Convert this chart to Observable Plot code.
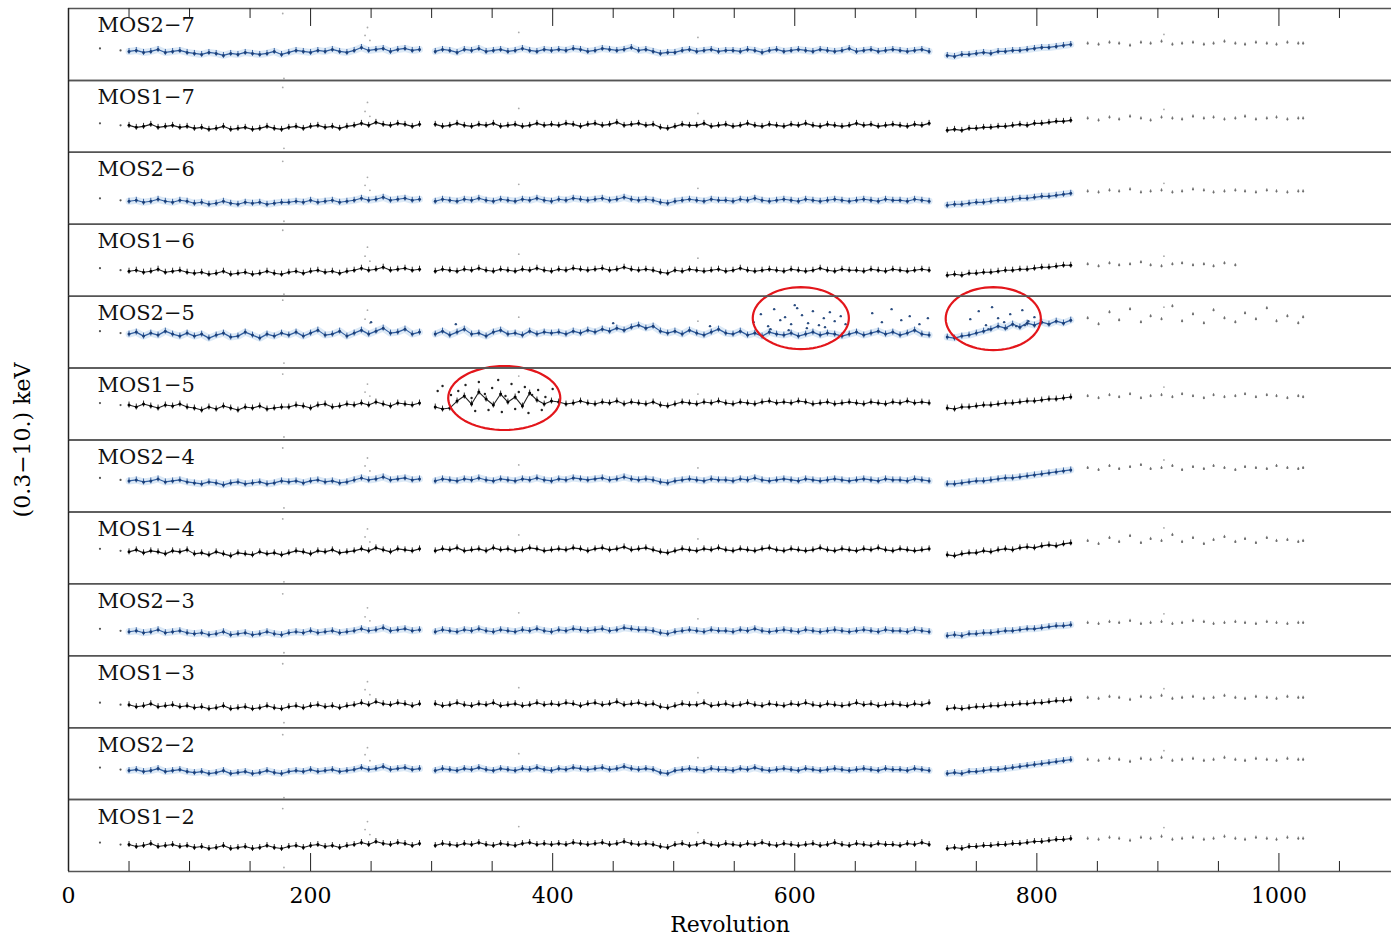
<!DOCTYPE html>
<html><head><meta charset="utf-8">
<script src="https://cdn.jsdelivr.net/npm/d3@7"></script>
<script src="https://cdn.jsdelivr.net/npm/@observablehq/plot@0.6"></script>
<style>body{margin:0;background:#fff}#chart svg{display:block}</style>
</head><body><div id="chart"></div>
<script>
const panels = ["MOS2−7","MOS1−7","MOS2−6","MOS1−6","MOS2−5","MOS1−5","MOS2−4","MOS1−4","MOS2−3","MOS1−3","MOS2−2","MOS1−2"];
const majorTicks = [200,400,600,800,1000];
const minorTicks = [50,100,150,250,300,350,450,500,550,650,700,750,850,900,950,1050];
const tickLabels = [0,200,400,600,800,1000];

// revolution numbers of the observations
const revs = [26,43,
50,56,62,68,74,80,86,92,98,104,110,116,122,128,134,140,146,152,158,164,170,176,182,188,194,200,206,212,218,224,230,236,242,248,254,260,266,272,278,284,290,
303,309,315,321,327,333,339,345,351,357,363,369,375,381,387,393,399,
405,411,417,423,429,435,441,447,453,459,465,471,477,483,489,495,
501,507,513,519,525,531,537,543,549,555,561,567,573,579,585,591,597,603,609,615,621,627,633,639,645,651,657,663,669,675,681,687,693,699,705,711,
726,732,738,744,750,756,762,768,774,780,786,792,798,804,810,816,822,828,
842,851,860,868,877,886,894,903,912,920,929,938,946,955,964,972,981,990,998,1007,1016,1020];

const mos2_7 = [3.2,3.0,
2.9,3.0,2.8,2.9,3.1,2.8,2.9,3.0,2.8,
2.7,2.6,2.8,2.7,2.5,2.7,2.6,2.8,2.7,2.6,2.7,2.9,2.6,
2.8,3.0,2.9,2.8,3.0,2.9,3.1,2.9,2.8,3.0,
3.3,3.0,3.1,3.2,2.9,3.1,3.2,3.0,3.1,
2.9,3.1,3.0,2.8,3.1,3.0,3.2,2.9,3.0,3.1,2.9,3.0,3.2,3.0,2.9,3.1,3.0,
3.1,3.0,3.2,3.1,2.9,3.0,3.2,3.1,3.0,3.1,3.3,3.0,3.1,2.9,2.7,2.8,
2.8,3.0,3.1,2.9,3.0,3.1,2.9,3.0,3.0,2.9,3.1,3.0,2.8,3.0,3.1,2.9,3.0,3.1,3.0,2.9,3.1,3.0,2.9,3.0,3.2,2.9,3.0,3.1,2.9,3.0,3.1,3.0,2.9,3.0,3.1,2.9,
2.5,2.4,2.6,2.6,2.7,2.8,2.7,2.9,2.9,3.0,3.0,3.1,3.2,3.3,3.3,3.4,3.5,3.6,
3.7,3.6,3.8,3.7,3.5,3.8,3.7,3.9,3.6,3.7,3.8,3.6,3.7,3.9,3.7,3.6,3.8,3.7,3.6,3.8,3.7,3.7];

const mos1_7 = [2.9,2.7,
2.7,2.5,2.6,2.8,2.5,2.6,2.7,2.5,2.6,
2.4,2.5,2.3,2.4,2.6,2.3,2.4,2.5,2.3,2.4,2.6,2.4,2.3,
2.5,2.6,2.4,2.6,2.7,2.5,2.6,2.4,2.6,2.7,
2.9,2.7,3.0,2.8,2.7,2.9,2.8,2.6,2.8,
2.8,2.6,2.7,2.9,2.7,2.6,2.8,2.7,2.9,2.6,2.7,2.8,2.6,2.7,2.9,2.7,2.8,
2.7,2.9,2.8,2.6,2.8,2.9,2.7,2.8,3.0,2.7,2.8,2.9,2.7,2.8,2.5,2.4,
2.6,2.8,2.7,2.7,2.9,2.6,2.7,2.8,2.6,2.7,2.9,2.7,2.6,2.8,2.7,2.6,2.8,2.7,2.9,2.7,2.6,2.8,2.7,2.6,2.7,2.9,2.7,2.8,2.6,2.7,2.8,2.7,2.6,2.8,2.7,2.9,
2.2,2.3,2.2,2.4,2.4,2.5,2.5,2.6,2.6,2.7,2.8,2.7,2.9,2.9,3.0,3.1,3.1,3.2,
3.4,3.2,3.5,3.3,3.6,3.4,3.2,3.5,3.4,3.3,3.6,3.4,3.5,3.3,3.4,3.6,3.3,3.4,3.5,3.3,3.4,3.4];

const mos2_6 = [2.6,2.4,
2.3,2.4,2.2,2.3,2.5,2.3,2.2,2.4,2.3,
2.1,2.2,2.0,2.1,2.3,2.1,2.0,2.2,2.1,2.2,2.0,2.1,2.2,
2.2,2.3,2.2,2.4,2.2,2.3,2.4,2.2,2.3,2.4,
2.6,2.4,2.5,2.7,2.4,2.5,2.6,2.4,2.5,
2.3,2.5,2.4,2.3,2.5,2.4,2.6,2.4,2.3,2.5,2.4,2.3,2.5,2.4,2.6,2.4,2.3,
2.5,2.4,2.6,2.5,2.4,2.5,2.6,2.4,2.5,2.7,2.5,2.4,2.5,2.4,2.2,2.1,
2.3,2.4,2.5,2.4,2.3,2.5,2.4,2.4,2.3,2.5,2.4,2.6,2.4,2.3,2.4,2.5,2.4,2.3,2.5,2.4,2.3,2.4,2.5,2.4,2.3,2.4,2.5,2.4,2.3,2.5,2.4,2.4,2.3,2.5,2.4,2.3,
1.9,2.0,2.0,2.1,2.2,2.2,2.3,2.4,2.4,2.5,2.6,2.6,2.7,2.8,2.8,2.9,3.0,3.1,
3.3,3.2,3.4,3.3,3.5,3.2,3.3,3.4,3.2,3.3,3.5,3.4,3.2,3.3,3.4,3.3,3.2,3.4,3.3,3.2,3.3,3.3];

const mos1_6 = [2.8,2.6,
2.5,2.6,2.4,2.5,2.7,2.4,2.5,2.6,2.4,
2.3,2.4,2.2,2.3,2.5,2.2,2.3,2.4,2.2,2.3,2.5,2.3,2.2,
2.4,2.5,2.3,2.5,2.6,2.4,2.5,2.3,2.5,2.6,
2.8,2.6,2.7,2.9,2.6,2.7,2.8,2.6,2.7,
2.5,2.7,2.6,2.5,2.7,2.6,2.8,2.6,2.5,2.7,2.6,2.5,2.7,2.6,2.8,2.6,2.5,
2.7,2.6,2.8,2.7,2.6,2.7,2.8,2.6,2.7,2.9,2.7,2.6,2.7,2.6,2.4,2.3,
2.6,2.5,2.7,2.6,2.5,2.6,2.7,2.5,2.6,2.8,2.6,2.5,2.6,2.7,2.6,2.5,2.7,2.6,2.5,2.6,2.8,2.6,2.5,2.7,2.6,2.6,2.5,2.7,2.6,2.5,2.7,2.6,2.5,2.6,2.7,2.6,
2.1,2.2,2.1,2.3,2.3,2.4,2.4,2.5,2.6,2.6,2.7,2.7,2.8,2.9,2.9,3.0,3.1,3.1,
3.2,3.0,3.3,3.1,3.2,3.4,3.1,3.0,3.2,3.3,3.1,3.2,3.0,3.3,3.1,null,null,null,null,null,null,null];

const mos2_5 = [3.7,3.5,
3.4,3.6,3.2,3.5,3.3,3.7,3.4,3.2,3.5,
3.2,3.4,3.0,3.3,3.5,3.1,3.2,3.6,3.3,3.0,3.4,3.2,3.5,
3.3,3.6,3.2,3.5,3.8,3.3,3.4,3.7,3.2,3.5,
3.8,3.4,3.7,4.0,3.5,3.6,3.9,3.4,3.6,
3.4,3.7,3.3,3.6,3.9,3.4,3.5,3.2,3.6,3.8,3.4,3.5,3.3,3.7,3.4,3.6,3.5,
3.6,3.4,3.7,3.5,3.8,3.6,3.9,3.7,4.0,3.8,4.1,4.3,4.0,4.2,3.7,3.5,
3.7,3.4,3.8,3.5,3.3,3.6,3.9,3.5,3.4,3.7,3.3,3.5,3.2,3.6,3.4,3.3,3.5,3.2,3.4,3.6,3.3,3.5,3.4,3.2,3.4,3.6,3.3,3.5,3.7,3.4,3.6,3.3,3.5,3.8,3.4,3.3,
3.1,3.0,3.2,3.3,3.5,3.7,3.9,4.2,4.0,4.4,4.1,4.5,4.3,4.6,4.4,4.7,4.5,4.8,
5.0,4.4,5.6,4.8,5.9,4.6,5.2,4.9,6.2,4.7,5.4,4.5,5.8,5.0,4.6,5.5,4.9,6.0,4.7,5.2,4.5,5.1];

const mos1_5 = [3.7,3.5,
3.5,3.3,3.6,3.4,3.2,3.5,3.4,3.6,3.3,
3.2,3.0,3.3,3.1,3.4,3.2,3.0,3.3,3.2,3.4,3.1,3.2,3.3,
3.3,3.5,3.4,3.2,3.5,3.6,3.3,3.4,3.6,3.5,
3.7,3.5,3.8,3.6,3.4,3.7,3.6,3.5,3.7,
3.3,3.1,3.2,3.9,4.4,3.6,4.8,4.1,3.5,4.6,3.8,4.3,3.4,4.7,4.0,3.6,3.9,
3.8,3.6,3.7,3.9,3.7,3.6,3.8,3.7,3.9,3.6,3.8,3.7,3.6,3.8,3.5,3.4,
3.6,3.8,3.7,3.6,3.8,3.7,3.9,3.7,3.6,3.8,3.7,3.6,3.8,3.9,3.7,3.8,3.7,3.9,3.8,3.6,3.7,3.8,3.6,3.7,3.8,3.7,3.6,3.8,3.7,3.6,3.8,3.7,3.9,3.7,3.8,3.7,
3.2,3.1,3.3,3.3,3.4,3.5,3.5,3.6,3.7,3.7,3.8,3.9,3.9,4.0,4.1,4.1,4.2,4.3,
4.4,4.2,4.5,4.3,4.6,4.2,4.4,4.5,4.3,4.6,4.4,4.2,4.5,4.3,4.4,4.6,4.3,4.5,4.4,4.2,4.4,4.3];

const mos2_4 = [3.4,3.2,
3.1,3.2,3.0,3.1,3.3,3.0,3.1,3.2,3.0,
2.9,2.8,3.0,2.9,2.7,2.9,3.0,2.8,2.9,3.0,2.8,2.9,3.1,
3.0,3.1,2.9,3.1,3.2,3.0,3.1,2.9,3.0,3.2,
3.4,3.2,3.3,3.5,3.2,3.3,3.4,3.2,3.3,
3.1,3.3,3.2,3.1,3.3,3.2,3.4,3.2,3.1,3.3,3.2,3.1,3.3,3.2,3.4,3.2,3.1,
3.3,3.2,3.4,3.3,3.2,3.3,3.4,3.2,3.3,3.5,3.3,3.2,3.3,3.2,3.0,2.9,
3.1,3.2,3.3,3.2,3.1,3.3,3.2,3.2,3.1,3.3,3.2,3.4,3.2,3.1,3.2,3.3,3.2,3.1,3.3,3.2,3.1,3.2,3.3,3.2,3.1,3.2,3.3,3.2,3.1,3.3,3.2,3.2,3.1,3.3,3.2,3.1,
2.8,2.8,2.9,3.0,3.1,3.1,3.2,3.3,3.4,3.4,3.5,3.6,3.7,3.8,3.9,4.0,4.1,4.2,
4.4,4.2,4.6,4.3,4.5,4.7,4.3,4.4,4.6,4.2,4.5,4.3,4.6,4.4,4.2,4.5,4.4,4.3,4.6,4.4,4.3,4.4];

const mos1_4 = [3.5,3.3,
3.2,3.4,3.1,3.3,3.2,3.0,3.3,3.2,3.4,
3.0,3.1,2.9,3.2,3.0,2.8,3.1,3.0,2.9,3.2,3.0,3.1,2.9,
3.1,3.3,3.2,3.0,3.3,3.2,3.4,3.1,3.2,3.3,
3.5,3.3,3.6,3.4,3.2,3.5,3.4,3.3,3.5,
3.3,3.5,3.4,3.6,3.3,3.4,3.5,3.3,3.6,3.4,3.5,3.3,3.4,3.6,3.5,3.3,3.4,
3.5,3.4,3.6,3.5,3.3,3.5,3.6,3.4,3.5,3.7,3.4,3.5,3.6,3.4,3.2,3.1,
3.3,3.5,3.4,3.3,3.5,3.4,3.6,3.4,3.3,3.5,3.4,3.3,3.5,3.6,3.4,3.3,3.5,3.4,3.3,3.4,3.6,3.4,3.3,3.5,3.4,3.3,3.5,3.4,3.6,3.4,3.3,3.5,3.4,3.3,3.4,3.5,
2.9,2.8,3.0,3.1,3.1,3.3,3.2,3.4,3.5,3.4,3.6,3.7,3.6,3.8,3.9,3.8,4.0,4.1,
4.3,4.0,4.6,4.2,4.8,4.1,4.5,4.3,4.9,4.2,4.6,4.0,4.4,4.7,4.2,4.5,4.1,4.6,4.3,4.4,4.2,4.3];

const mos2_3 = [2.7,2.5,
2.4,2.5,2.3,2.4,2.6,2.3,2.4,2.5,2.3,
2.2,2.3,2.1,2.2,2.4,2.1,2.2,2.3,2.1,2.2,2.4,2.2,2.1,
2.3,2.4,2.3,2.5,2.3,2.4,2.5,2.3,2.4,2.5,
2.7,2.5,2.6,2.8,2.5,2.6,2.7,2.5,2.6,
2.4,2.6,2.5,2.4,2.6,2.5,2.7,2.5,2.4,2.6,2.5,2.4,2.6,2.5,2.7,2.5,2.4,
2.6,2.5,2.7,2.6,2.5,2.6,2.7,2.5,2.6,2.8,2.7,2.6,2.6,2.5,2.3,2.2,
2.4,2.5,2.6,2.5,2.4,2.6,2.5,2.5,2.4,2.6,2.5,2.7,2.5,2.4,2.5,2.6,2.5,2.4,2.6,2.5,2.4,2.5,2.6,2.5,2.4,2.5,2.6,2.5,2.4,2.6,2.5,2.5,2.4,2.6,2.5,2.4,
2.0,2.1,2.0,2.2,2.2,2.3,2.3,2.4,2.5,2.5,2.6,2.7,2.7,2.8,2.9,3.0,3.0,3.1,
3.3,3.2,3.4,3.3,3.5,3.2,3.3,3.4,3.2,3.3,3.5,3.4,3.2,3.3,3.4,3.3,3.2,3.4,3.3,3.2,3.3,3.3];

const mos1_3 = [2.5,2.3,
2.3,2.1,2.2,2.4,2.1,2.2,2.3,2.1,2.2,
2.0,2.1,1.9,2.0,2.2,1.9,2.0,2.1,1.9,2.0,2.2,2.0,1.9,
2.1,2.2,2.0,2.2,2.3,2.1,2.2,2.0,2.2,2.3,
2.5,2.3,2.6,2.4,2.3,2.5,2.4,2.2,2.4,
2.4,2.2,2.3,2.5,2.3,2.2,2.4,2.3,2.5,2.2,2.3,2.4,2.2,2.3,2.5,2.3,2.4,
2.3,2.5,2.4,2.2,2.4,2.5,2.3,2.4,2.6,2.3,2.4,2.5,2.3,2.4,2.1,2.0,
2.2,2.4,2.3,2.3,2.5,2.2,2.3,2.4,2.2,2.3,2.5,2.3,2.2,2.4,2.3,2.2,2.4,2.3,2.5,2.3,2.2,2.4,2.3,2.2,2.3,2.5,2.3,2.4,2.2,2.3,2.4,2.3,2.2,2.4,2.3,2.5,
1.9,2.0,1.9,2.0,2.1,2.1,2.2,2.2,2.3,2.3,2.4,2.4,2.5,2.5,2.6,2.7,2.7,2.8,
3.0,2.9,3.1,3.0,2.8,3.1,3.0,3.2,2.9,3.0,3.1,2.9,3.0,3.2,3.0,2.9,3.1,3.0,2.9,3.1,3.0,3.0];

const mos2_2 = [3.2,3.0,
2.9,3.0,2.8,2.9,3.1,2.8,2.9,3.0,2.8,
2.7,2.8,2.6,2.7,2.9,2.6,2.7,2.8,2.6,2.7,2.9,2.7,2.6,
2.8,2.9,2.8,3.0,2.8,2.9,3.0,2.8,2.9,3.0,
3.2,3.0,3.1,3.3,3.0,3.1,3.2,3.0,3.1,
2.9,3.1,3.0,2.9,3.1,3.0,3.2,3.0,2.9,3.1,3.0,2.9,3.1,3.0,3.2,3.0,2.9,
3.1,3.0,3.2,3.1,3.0,3.1,3.2,3.0,3.1,3.3,3.1,3.0,3.1,3.0,2.7,2.6,
2.9,3.0,3.1,3.0,2.9,3.1,3.0,3.0,2.9,3.1,3.0,3.2,3.0,2.9,3.0,3.1,3.0,2.9,3.1,3.0,2.9,3.0,3.1,3.0,2.9,3.0,3.1,3.0,2.9,3.1,3.0,3.0,2.9,3.1,3.0,2.9,
2.6,2.7,2.6,2.8,2.8,2.9,3.0,3.0,3.1,3.2,3.3,3.4,3.5,3.6,3.7,3.8,3.9,4.0,
4.0,3.9,4.1,4.0,3.8,4.1,4.0,4.2,3.9,4.0,4.1,3.9,4.0,4.2,4.0,3.9,4.1,4.0,3.9,4.1,4.0,4.0];

const mos1_2 = [2.9,2.7,
2.7,2.5,2.6,2.8,2.5,2.6,2.7,2.5,2.6,
2.4,2.5,2.3,2.4,2.6,2.3,2.4,2.5,2.3,2.4,2.6,2.4,2.3,
2.5,2.6,2.4,2.6,2.7,2.5,2.6,2.4,2.6,2.7,
2.9,2.7,3.0,2.8,2.7,2.9,2.8,2.6,2.8,
2.6,2.8,2.7,2.6,2.8,2.7,2.9,2.7,2.6,2.8,2.7,2.6,2.8,2.9,2.7,2.8,2.7,
2.8,2.7,2.9,2.8,2.7,2.8,2.9,2.7,2.8,3.0,2.8,2.7,2.8,2.7,2.5,2.4,
2.7,2.8,2.6,2.7,2.9,2.7,2.6,2.8,2.7,2.6,2.8,2.7,2.9,2.7,2.6,2.8,2.7,2.6,2.7,2.8,2.6,2.7,2.9,2.7,2.6,2.8,2.7,2.6,2.8,2.7,2.7,2.6,2.8,2.7,2.9,2.7,
2.3,2.4,2.3,2.5,2.5,2.6,2.6,2.7,2.7,2.8,2.8,2.9,3.0,3.0,3.1,3.2,3.2,3.3,
3.3,3.2,3.4,3.3,3.1,3.4,3.3,3.5,3.2,3.3,3.4,3.2,3.3,3.5,3.3,3.2,3.4,3.3,3.2,3.4,3.3,3.3];

// stray points seen in every panel
const strayRevs = [177,178,245,247,249,372,520,905];
const strayVals = {
  "MOS2−7":[6.7,0.2,4.5,5.3,4.0,4.8,4.3,4.6], "MOS1−7":[6.5,0.4,4.1,5.0,3.6,4.4,3.9,4.3],
  "MOS2−6":[6.3,0.3,3.9,4.7,3.4,4.0,3.6,4.1], "MOS1−6":[6.6,0.2,4.0,4.9,3.5,4.2,3.8,4.0],
  "MOS2−5":[6.8,0.5,4.9,5.8,4.5,5.1,4.7,6.1], "MOS1−5":[6.6,0.3,4.8,5.6,4.4,6.4,4.6,5.3],
  "MOS2−4":[6.4,0.4,4.6,5.4,4.1,4.7,4.4,5.2], "MOS1−4":[6.5,0.2,4.7,5.5,4.2,4.9,4.5,5.6],
  "MOS2−3":[6.2,0.3,3.9,4.8,3.5,4.3,3.7,4.2], "MOS1−3":[6.4,0.5,3.8,4.6,3.3,4.0,3.5,3.9],
  "MOS2−2":[6.5,0.2,4.5,5.2,3.9,4.6,4.2,4.9], "MOS1−2":[6.3,0.4,4.2,5.0,3.7,4.5,3.9,4.4]};

// flaring scatter in MOS2-5 and MOS1-5
const flare25Revs = [566,572,578,583,588,592,597,602,606,611,615,620,624,629,633,638,642,580,595,610,625,600,664,672,680,688,695,703,710,745,752,758,763,768,773,778,783,788,793,798,760,775,790,250,320,450,530];
const flare25Vals = [4.6,5.4,4.2,5.9,4.8,5.1,4.4,6.0,5.3,4.5,5.7,4.3,5.0,5.6,4.7,5.2,4.4,3.9,3.8,4.0,4.1,6.3,5.5,4.6,5.9,4.8,5.2,4.4,5.0,4.9,5.7,4.3,6.1,5.0,4.6,5.4,4.2,5.8,4.7,5.1,3.9,4.0,4.3,4.6,4.4,4.5,4.2];
const flare15Revs = [322,328,333,339,344,350,355,361,366,372,377,383,388,394,336,347,358,369,380,391,316,400,305,309];
const flare15Vals = [4.9,5.5,4.2,5.8,4.6,5.2,6.0,4.4,5.6,4.8,5.3,4.5,5.0,4.3,2.9,3.0,2.8,3.1,2.7,3.0,4.5,5.1,4.9,5.4];

// highlighted regions (centre revolution, centre value, half-widths)
const circles = [
  {panel:"MOS2−5", rev:605, val:5.0, dRev:39.7, dVal:3.1},
  {panel:"MOS2−5", rev:764, val:4.95, dRev:39.3, dVal:3.15},
  {panel:"MOS1−5", rev:360, val:4.2, dRev:46.3, dVal:3.2}];

const series = {"MOS2−7":mos2_7,"MOS1−7":mos1_7,"MOS2−6":mos2_6,"MOS1−6":mos1_6,"MOS2−5":mos2_5,"MOS1−5":mos1_5,
  "MOS2−4":mos2_4,"MOS1−4":mos1_4,"MOS2−3":mos2_3,"MOS1−3":mos1_3,"MOS2−2":mos2_2,"MOS1−2":mos1_2};

const segOf = r => r < 45 ? "a" : r < 296 ? "b" : r < 720 ? "c" : r < 835 ? "d" : "e";
const points = [];
for (const p of panels) {
  const vals = series[p];
  if (vals.length !== revs.length) console.error(p, vals.length, revs.length);
  vals.forEach((v, i) => { if (v != null) points.push({panel: p, rev: revs[i], val: v, seg: segOf(revs[i]), blue: p.startsWith("MOS2")}); });
}
const dense = points.filter(d => d.seg !== "a" && d.seg !== "e");
const denseBlue = dense.filter(d => d.blue), denseBlack = dense.filter(d => !d.blue);
const lead = points.filter(d => d.seg === "a");
const sparse = points.filter(d => d.seg === "e");
const strays = panels.flatMap(p => strayRevs.map((r, i) => ({panel: p, rev: r, val: strayVals[p][i]})));
const flare25 = flare25Revs.map((r, i) => ({panel: "MOS2−5", rev: r, val: flare25Vals[i]}));
const flare15 = flare15Revs.map((r, i) => ({panel: "MOS1−5", rev: r, val: flare15Vals[i]}));
const ellipsePts = circles.flatMap((c, k) => d3.range(0, 73).map(j => {
  const t = j / 72 * 2 * Math.PI;
  return {id: k, panel: c.panel, rev: c.rev + c.dRev * Math.cos(t), val: c.val + c.dVal * Math.sin(t)};
}));

const TOP = 7.2, ERR = 0.3;
const chart = Plot.plot({
  width: 1391, height: 936,
  marginTop: 8, marginBottom: 65, marginLeft: 68, marginRight: 0,
  style: {fontFamily: "'DejaVu Serif', serif", fontSize: "22px", color: "#000", background: "#fff"},
  x: {domain: [0, 1093], ticks: tickLabels, tickFormat: d => String(d), tickSize: 0, tickPadding: 16, label: "Revolution", labelAnchor: "center", labelArrow: "none", labelOffset: 60},
  y: {domain: [0, TOP], axis: null},
  fy: {domain: panels, axis: null, padding: 0, round: false},
  marks: [
    Plot.line(denseBlue, {x: "rev", y: "val", fy: "panel", z: "seg", stroke: "#d3e3f4", strokeWidth: 7, strokeOpacity: 0.8}),
    Plot.ruleX(denseBlue, {x: "rev", y1: d => d.val - ERR, y2: d => d.val + ERR, fy: "panel", stroke: "#3a64a3", strokeWidth: 1}),
    Plot.ruleX(denseBlack, {x: "rev", y1: d => d.val - ERR, y2: d => d.val + ERR, fy: "panel", stroke: "#333", strokeWidth: 1}),
    Plot.line(denseBlue, {x: "rev", y: "val", fy: "panel", z: "seg", stroke: "#2f5c9e", strokeWidth: 1.2}),
    Plot.line(denseBlack, {x: "rev", y: "val", fy: "panel", z: "seg", stroke: "#222", strokeWidth: 1.1}),
    Plot.dot(denseBlue, {x: "rev", y: "val", fy: "panel", r: 1.5, fill: "#1b3f78"}),
    Plot.dot(denseBlack, {x: "rev", y: "val", fy: "panel", r: 1.5, fill: "#000"}),
    Plot.dot(lead, {x: "rev", y: "val", fy: "panel", r: 1.1, fill: "#555"}),
    Plot.ruleX(sparse, {x: "rev", y1: d => d.val - 0.15, y2: d => d.val + 0.15, fy: "panel", stroke: "#888", strokeWidth: 1}),
    Plot.dot(sparse, {x: "rev", y: "val", fy: "panel", r: 1.1, fill: "#6f6f6f"}),
    Plot.dot(strays, {x: "rev", y: "val", fy: "panel", r: 0.9, fill: "#aaa"}),
    Plot.dot(flare25, {x: "rev", y: "val", fy: "panel", r: 1.2, fill: "#2b4d80"}),
    Plot.dot(flare15, {x: "rev", y: "val", fy: "panel", r: 1.2, fill: "#222"}),
    Plot.line(ellipsePts, {x: "rev", y: "val", fy: "panel", z: "id", stroke: "#e3161b", strokeWidth: 2.2, curve: "linear"}),
    Plot.text(panels, {fy: d => d, text: d => d, frameAnchor: "top-left", dx: 29, dy: 9, lineAnchor: "top", textAnchor: "start", fontSize: 21, fill: "#111"}),
    Plot.text(["(0.3−10.) keV"], {fy: () => "MOS1−5", text: d => d, frameAnchor: "bottom-left", dx: -46, rotate: -90, textAnchor: "middle", lineAnchor: "middle", fontSize: 22}),
    Plot.ruleY([0, TOP], {stroke: "#555", strokeWidth: 1.5}),
    Plot.ruleX([0], {stroke: "#222", strokeWidth: 1.5}),
    Plot.ruleX(majorTicks, {x: d => d, fy: () => "MOS2−7", y1: TOP, y2: TOP - 1.8, stroke: "#222", strokeWidth: 1}),
    Plot.ruleX(minorTicks, {x: d => d, fy: () => "MOS2−7", y1: TOP, y2: TOP - 1.0, stroke: "#222", strokeWidth: 1}),
    Plot.ruleX(majorTicks, {x: d => d, fy: () => "MOS1−2", y1: 0, y2: 1.8, stroke: "#222", strokeWidth: 1}),
    Plot.ruleX(minorTicks, {x: d => d, fy: () => "MOS1−2", y1: 0, y2: 1.0, stroke: "#222", strokeWidth: 1})
  ]
});
document.getElementById("chart").append(chart);
</script></body></html>
